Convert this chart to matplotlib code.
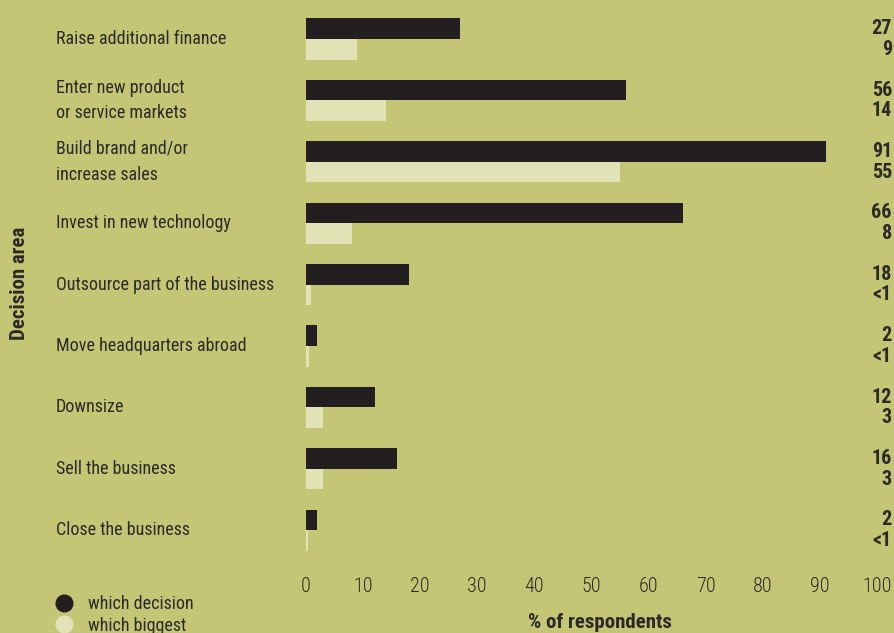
import matplotlib
matplotlib.use("Agg")
import matplotlib.pyplot as plt
import matplotlib.transforms as mtransforms
from matplotlib.lines import Line2D
from matplotlib import font_manager

# prefer a narrow face when one is around
names = {f.name for f in font_manager.fontManager.ttflist}
narrow = [n for n in ['Roboto Condensed', 'Liberation Sans Narrow',
                      'Open Sans Condensed'] if n in names]
plt.rcParams['font.family'] = narrow[:1] + ['Liberation Sans', 'DejaVu Sans']
is_narrow = bool(narrow)

areas = ["Raise additional finance",
         "Enter new product\nor service markets",
         "Build brand and/or\nincrease sales",
         "Invest in new technology",
         "Outsource part of the business",
         "Move headquarters abroad",
         "Downsize",
         "Sell the business",
         "Close the business"]
which_decision = [27, 56, 91, 66, 18, 2, 12, 16, 2]
which_biggest = [9, 14, 55, 8, 0.9, 0.5, 3, 3, 0.3]
decision_labels = ["27", "56", "91", "66", "18", "2", "12", "16", "2"]
biggest_labels = ["9", "14", "55", "8", "<1", "<1", "3", "3", "<1"]
ticks = [0, 10, 20, 30, 40, 50, 60, 70, 80, 90, 100]

bg = "#c4c676"
dark = "#231f20"
light = "#e1e2b6"
txt = "#2b2a26"
fs = 13 if is_narrow else 11.5

W, H = 895, 633
fig = plt.figure(figsize=(W / 100, H / 100), dpi=100, facecolor=bg)
ax = fig.add_axes([306 / W, 1 - 560 / H, 571 / W, 560 / H])
ax.set_facecolor(bg)

row = 61.4
ax.set_xlim(0, 100)
ax.set_ylim((560 - 39) / row, -39 / row)

h = 0.335
ys = list(range(len(areas)))
ax.barh([y - h / 2 for y in ys], which_decision, height=h, color=dark)
ax.barh([y + h / 2 for y in ys], which_biggest, height=h, color=light)

for s in ax.spines.values():
    s.set_visible(False)
ax.set_yticks([])
ax.set_xticks(ticks)
ax.set_xticklabels([str(t) for t in ticks], fontweight='light')
ax.tick_params(axis='x', length=0, pad=12, labelsize=fs + 1.5, labelcolor=txt)

tr = mtransforms.blended_transform_factory(fig.transFigure, ax.transData)
for y, name, a, b in zip(ys, areas, decision_labels, biggest_labels):
    fig.text(56 / W, y, name, transform=tr, ha='left', va='center',
             fontsize=fs, color=txt, linespacing=1.55)
    ax.text(892 / W, y - h / 2, a, transform=tr, ha='right', va='center',
            fontsize=fs + 1.5, fontweight='bold', color=txt)
    ax.text(892 / W, y + h / 2, b, transform=tr, ha='right', va='center',
            fontsize=fs + 1.5, fontweight='bold', color=txt)

fig.text(20 / W, 1 - 283 / H, "Decision area", rotation=90, ha='center',
         va='center', fontsize=fs + 2, fontweight='bold', color=txt)
fig.text(600 / W, 1 - 623 / H, "% of respondents", ha='center', va='center',
         fontsize=fs + 2, fontweight='bold', color=txt)

handles = [Line2D([], [], marker='o', ls='', color=dark, markersize=12),
           Line2D([], [], marker='o', ls='', color=light, markersize=12)]
fig.legend(handles, ["which decision", "which biggest"], loc='upper left',
           bbox_to_anchor=(46 / W, 1 - 586 / H), frameon=False,
           borderpad=0, labelspacing=0.2, handletextpad=0.85,
           handlelength=1.0, fontsize=fs, labelcolor=txt)

fig.savefig("out.png", dpi=100, facecolor=bg)
